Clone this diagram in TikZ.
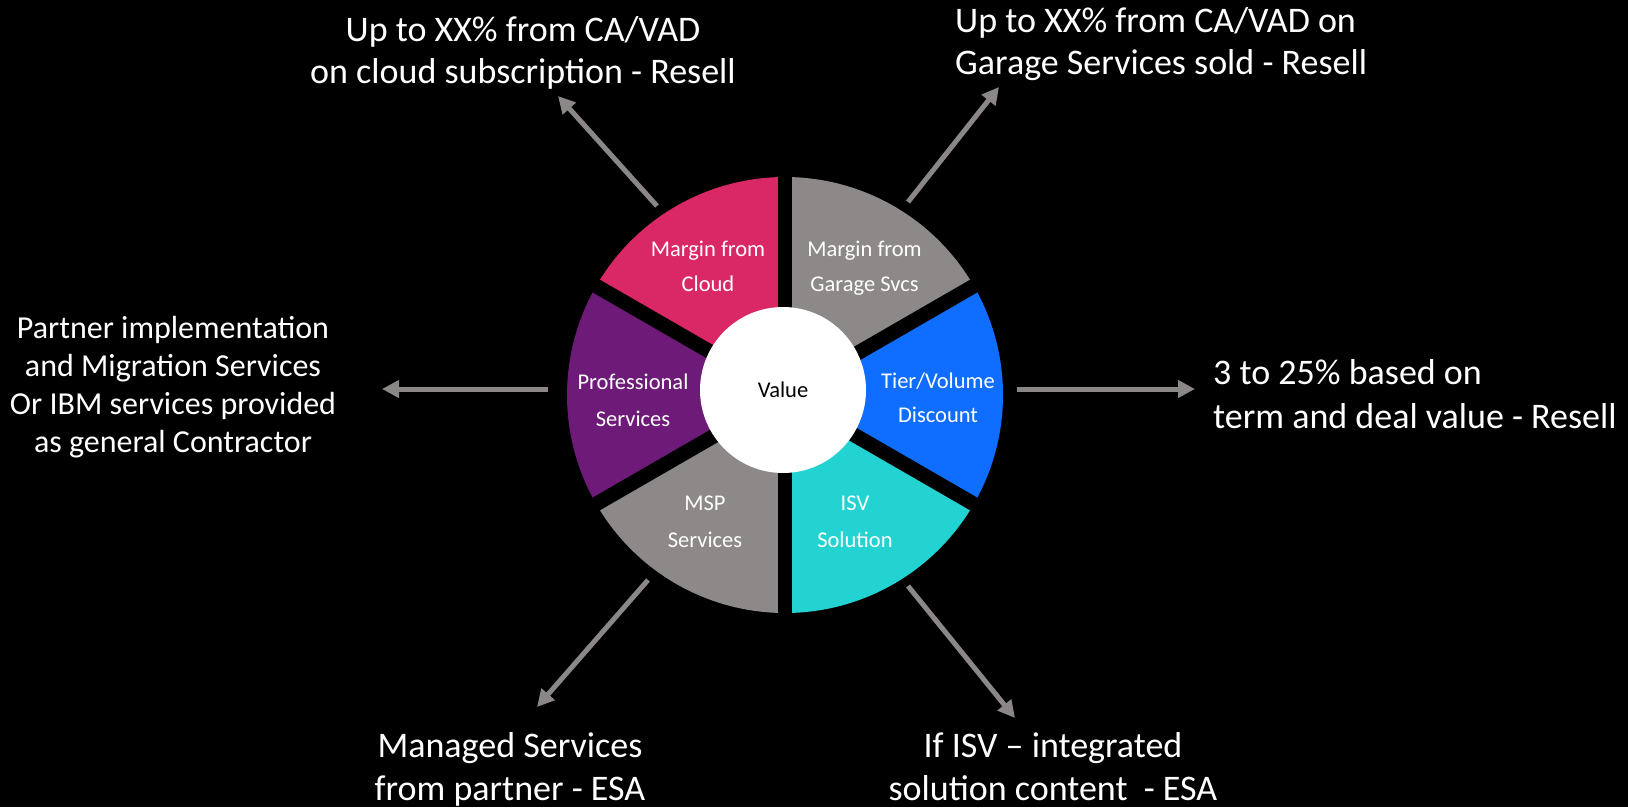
\documentclass[tikz,border=0pt]{standalone}
\usepackage{fontspec}
\setmainfont{Carlito}
\usetikzlibrary{arrows.meta}

\definecolor{cloudred}{HTML}{DA2866}
\definecolor{profpurple}{HTML}{6E1A78}
\definecolor{wheelgray}{HTML}{8C8988}
\definecolor{tierblue}{HTML}{0F6EFF}
\definecolor{isvcyan}{HTML}{23D3D1}
\definecolor{arrowgray}{HTML}{8A8786}

% multi-line text whose baseline is that of its first line
\newcommand{\ctrlines}[1]{\begin{tabular}[t]{@{}c@{}}#1\end{tabular}}
\newcommand{\leftlines}[1]{\begin{tabular}[t]{@{}l@{}}#1\end{tabular}}

\tikzset{
  note/.style={text=white, inner sep=0pt, anchor=base},
  wedgelabel/.style={text=white, inner sep=0pt, anchor=base,
    font=\fontsize{22.5}{35}\selectfont},
  pointer/.style={draw=arrowgray, line width=5pt,
    -{Triangle[length=17pt, width=17pt]}},
  gap/.style={draw=black, line width=14.6pt},
}

\begin{document}
\begin{tikzpicture}[x=1pt, y=1pt]
  \useasboundingbox (0,0) rectangle (1628,-807);
  \fill[black] (0,0) rectangle (1628,-807);

  % wheel of six sectors
  \coordinate (O) at (785,-395);
  \def\R{218}
  \fill[wheelgray]  (O) -- ++(30:\R)  arc[start angle=30,  end angle=90,  radius=\R] -- cycle;
  \fill[cloudred]   (O) -- ++(90:\R)  arc[start angle=90,  end angle=150, radius=\R] -- cycle;
  \fill[profpurple] (O) -- ++(150:\R) arc[start angle=150, end angle=210, radius=\R] -- cycle;
  \fill[wheelgray]  (O) -- ++(210:\R) arc[start angle=210, end angle=270, radius=\R] -- cycle;
  \fill[isvcyan]    (O) -- ++(270:\R) arc[start angle=270, end angle=330, radius=\R] -- cycle;
  \fill[tierblue]   (O) -- ++(-30:\R) arc[start angle=-30, end angle=30,  radius=\R] -- cycle;

  % black gaps between the sectors
  \foreach \a in {30,90,150,210,270,330}
    \draw[gap] (O) -- ++(\a:232);

  % hub
  \node[circle, fill=white, minimum size=166pt, inner sep=0pt,
        font=\fontsize{22.5}{27}\selectfont] (hub) at (783,-390) {Value};

  % sector labels
  \node[wedgelabel] (cloud)  at (708,-256) {\ctrlines{Margin from\\Cloud}};
  \node[wedgelabel] (garage) at (864.5,-256) {\ctrlines{Margin from\\Garage Svcs}};
  \node[wedgelabel, font=\fontsize{22.5}{37}\selectfont] (prof) at (633,-389) {\ctrlines{Professional\\Services}};
  \node[wedgelabel, font=\fontsize{22.5}{34}\selectfont] (tier) at (938,-388) {\ctrlines{Tier/Volume\\Discount}};
  \node[wedgelabel, font=\fontsize{22.5}{37}\selectfont] (msp)  at (705,-510) {\ctrlines{MSP\\Services}};
  \node[wedgelabel, font=\fontsize{22.5}{37}\selectfont] (isv)  at (855,-510) {\ctrlines{ISV\\Solution}};

  % outer notes
  \node[note, font=\fontsize{36}{42}\selectfont] (cloudNote) at (523,-41)
    {\ctrlines{Up to XX\% from CA/VAD\\on cloud subscription - Resell}};
  \node[note, anchor=base west, font=\fontsize{36}{42}\selectfont] (garageNote) at (955,-32)
    {\leftlines{Up to XX\% from CA/VAD on\\Garage Services sold - Resell}};
  \node[note, font=\fontsize{32}{38}\selectfont] (profNote) at (173,-338)
    {\ctrlines{Partner implementation\\and Migration Services\\Or IBM services provided\\as general Contractor}};
  \node[note, anchor=base west, font=\fontsize{36}{44}\selectfont] (tierNote) at (1213,-384)
    {\leftlines{3 to 25\% based on\\term and deal value - Resell}};
  \node[note, font=\fontsize{36}{43}\selectfont] (mspNote) at (510,-757)
    {\ctrlines{Managed Services\\from partner - ESA}};
  \node[note, font=\fontsize{36}{43}\selectfont] (isvNote) at (1053,-757)
    {\ctrlines{If ISV – integrated\\solution content\ \ - ESA}};

  % arrow ends
  \coordinate (cloudTail)  at (657,-206);
  \coordinate (cloudTip)   at (558,-96);
  \coordinate (garageTail) at (908,-202);
  \coordinate (garageTip)  at (999,-87);
  \coordinate (profTail)   at (548,-389);
  \coordinate (profTip)    at (382,-389);
  \coordinate (tierTail)   at (1017,-389);
  \coordinate (tierTip)    at (1195,-389);
  \coordinate (mspTail)    at (648,-580);
  \coordinate (mspTip)     at (537,-707);
  \coordinate (isvTail)    at (908,-586);
  \coordinate (isvTip)     at (1015,-718);

  \draw[pointer] (cloudTail)  -- (cloudTip);
  \draw[pointer] (garageTail) -- (garageTip);
  \draw[pointer] (profTail)   -- (profTip);
  \draw[pointer] (tierTail)   -- (tierTip);
  \draw[pointer] (mspTail)    -- (mspTip);
  \draw[pointer] (isvTail)    -- (isvTip);
\end{tikzpicture}
\end{document}
